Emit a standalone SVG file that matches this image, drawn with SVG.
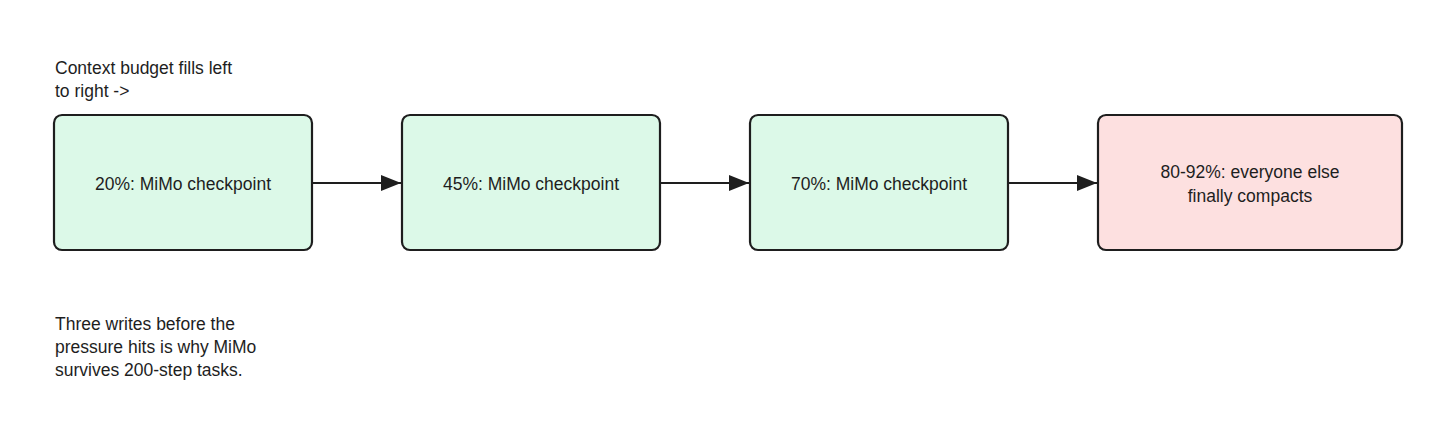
<svg xmlns="http://www.w3.org/2000/svg" width="1456" height="433" viewBox="0 0 1456 433">
<style>
.box{stroke:#1e1e1e;stroke-width:2.2}
.g{fill:#dcf9e8}
.r{fill:#fde0e0}
text{font-family:"Liberation Sans",Arial,sans-serif;font-size:17.5px;fill:#1e1e1e}
.c{text-anchor:middle}
.edge{stroke:#1e1e1e;stroke-width:2.2;fill:none}
</style>
<defs>
<marker id="ah" markerWidth="20" markerHeight="16" refX="20" refY="8" orient="auto" markerUnits="userSpaceOnUse" viewBox="0 0 20 16">
<path d="M0,0 L20,8 L0,16 Z" fill="#1e1e1e"/>
</marker>
</defs>
<rect width="1456" height="433" fill="#ffffff"/>
<g id="note-top">
<text x="55" y="74">Context budget fills left</text>
<text x="55" y="97">to right -&gt;</text>
</g>
<g id="note-bottom">
<text x="55" y="330">Three writes before the</text>
<text x="55" y="353">pressure hits is why MiMo</text>
<text x="55" y="376">survives 200-step tasks.</text>
</g>
<g id="connectors">
<line class="edge" x1="313" y1="183" x2="401" y2="183" marker-end="url(#ah)"/>
<line class="edge" x1="661" y1="183" x2="749" y2="183" marker-end="url(#ah)"/>
<line class="edge" x1="1009" y1="183" x2="1097" y2="183" marker-end="url(#ah)"/>
</g>
<g id="n1">
<rect class="box g" x="54" y="115" width="258" height="135" rx="8"/>
<text class="c" x="183" y="190">20%: MiMo checkpoint</text>
</g>
<g id="n2">
<rect class="box g" x="402" y="115" width="258" height="135" rx="8"/>
<text class="c" x="531" y="190">45%: MiMo checkpoint</text>
</g>
<g id="n3">
<rect class="box g" x="750" y="115" width="258" height="135" rx="8"/>
<text class="c" x="879" y="190">70%: MiMo checkpoint</text>
</g>
<g id="n4">
<rect class="box r" x="1098" y="115" width="304" height="135" rx="8"/>
<text class="c" x="1250" y="178">80-92%: everyone else</text>
<text class="c" x="1250" y="202">finally compacts</text>
</g>
</svg>
